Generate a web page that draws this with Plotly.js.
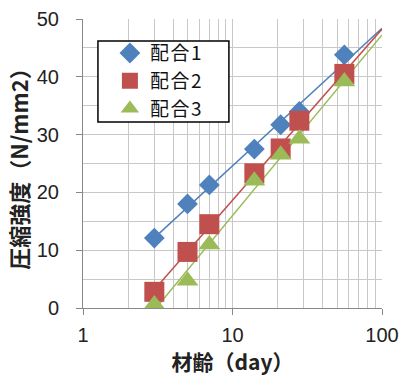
<!DOCTYPE html>
<html><head><meta charset="utf-8">
<script src="https://cdn.plot.ly/plotly-3.0.1.min.js"></script>
<style>html,body{margin:0;padding:0;background:#fff;}#chart{width:401px;height:379px;}
.legendtext{letter-spacing:1.5px;}</style>
</head><body><div id="chart"></div>
<script>
const days = [3, 5, 7, 14, 21, 28, 56];
const mix1 = [12.1, 18.0, 21.3, 27.5, 31.7, 34.0, 43.8];
const mix2 = [2.8, 9.7, 14.5, 23.3, 27.6, 32.4, 40.5];
const mix3 = [0.6, 4.7, 11.0, 22.0, 26.5, 29.3, 39.2];
const seriesNames = ['配合1', '配合2', '配合3'];
const trendEnd = 100;

function logFit(xs, ys) {
  const lx = xs.map(Math.log);
  const n = xs.length;
  const mx = lx.reduce((a, b) => a + b, 0) / n;
  const my = ys.reduce((a, b) => a + b, 0) / n;
  let sxy = 0, sxx = 0;
  for (let i = 0; i < n; i++) { sxy += (lx[i] - mx) * (ys[i] - my); sxx += (lx[i] - mx) ** 2; }
  const a = sxy / sxx, b = my - a * mx;
  const x0 = Math.min(...xs);
  return {x: [x0, trendEnd], y: [a * Math.log(x0) + b, a * Math.log(trendEnd) + b]};
}

const colors = ['#4F81BD', '#C0504D', '#9BBB59'];
const symbols = ['diamond', 'square', 'triangle-up'];
const sizes = [16, 20, 19];
const data = [];
[mix1, mix2, mix3].forEach((ys, i) => {
  const f = logFit(days, ys);
  data.push({x: f.x, y: f.y, mode: 'lines', line: {color: colors[i], width: 1.5}, showlegend: false, hoverinfo: 'skip'});
});
[mix1, mix2, mix3].forEach((ys, i) => {
  data.push({x: days, y: ys, mode: 'markers', name: seriesNames[i],
    marker: {symbol: symbols[i], size: sizes[i], color: colors[i]}});
});

const minorX = [2,3,4,5,6,7,8,9,20,30,40,50,60,70,80,90];
const fontFam = 'Liberation Sans, Noto Sans CJK JP, sans-serif';
const cjk = 'Noto Sans CJK JP, sans-serif';
const layout = {
  width: 401, height: 379,
  margin: {l: 83, r: 19, t: 19, b: 71},
  paper_bgcolor: '#fff', plot_bgcolor: '#fff',
  font: {family: fontFam, size: 19, color: '#222'},
  showlegend: true,
  legend: {x: 0.09, y: 0.785, xanchor: 'left', yanchor: 'middle', borderwidth: 0,
    bgcolor: 'rgba(0,0,0,0)', font: {family: cjk, size: 19, color: '#111'},
    tracegroupgap: 0, itemwidth: 30},
  shapes: [{type: 'rect', xref: 'paper', yref: 'paper', x0: 0.050, x1: 0.488, y0: 0.6436, y1: 0.924,
    line: {color: '#000', width: 1.5}, fillcolor: '#fff', layer: 'above'}],
  xaxis: {type: 'log', range: [0, 2], tickmode: 'array', tickvals: [1, 10, 100], ticktext: ['1', '10', '100'],
    ticks: 'outside', ticklen: 6, tickcolor: '#888', showline: true, linecolor: '#888', linewidth: 1,
    showgrid: true, gridcolor: '#c8c8c8', gridwidth: 1, zeroline: false, ticklabelstandoff: 3,
    minor: {tickmode: 'array', tickvals: minorX, showgrid: true, gridcolor: '#c8c8c8', gridwidth: 1, ticks: ''},
    tickfont: {size: 20, color: '#222'},
    title: {text: '<b>材齢（day）</b>', font: {family: cjk, size: 21, color: '#222'}, standoff: 0}},
  yaxis: {range: [0, 50], dtick: 10, ticks: 'outside', ticklen: 6, tickcolor: '#888',
    showline: true, linecolor: '#888', linewidth: 1, zeroline: false, ticklabelstandoff: 13,
    showgrid: true, gridcolor: '#c8c8c8', gridwidth: 1,
    minor: {dtick: 5, showgrid: true, gridcolor: '#c8c8c8', gridwidth: 1, ticks: ''},
    tickfont: {size: 20, color: '#222'},
    title: {text: '<b>圧縮強度（N/mm2）</b>', font: {family: cjk, size: 22, color: '#222'}, standoff: 2}}
};
Plotly.newPlot('chart', data, layout, {displayModeBar: false, staticPlot: true});
</script></body></html>
